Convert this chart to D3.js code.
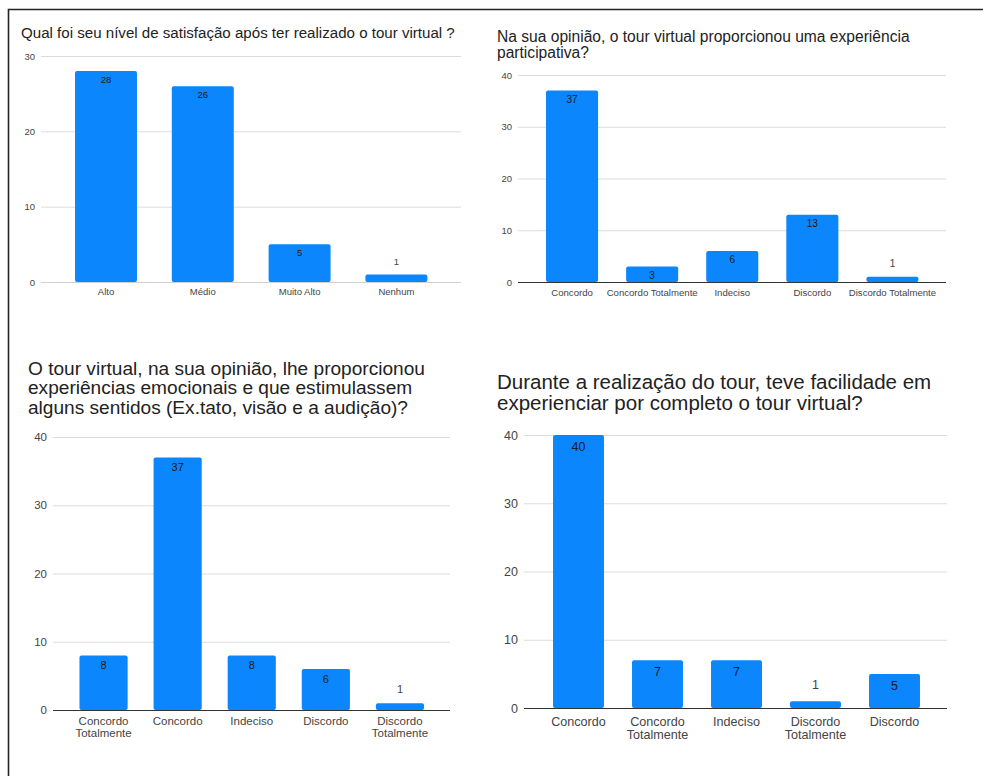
<!DOCTYPE html>
<html>
<head>
<meta charset="utf-8">
<script src="https://cdn.jsdelivr.net/npm/d3@7"></script>
<style>
  html, body { margin: 0; padding: 0; background: #fff; }
  svg { display: block; }
  text { font-family: "Liberation Sans", Arial, sans-serif; }
</style>
</head>
<body>
<svg id="chart" width="983" height="776"></svg>
<script>
// Survey answers about the virtual tour, one block per question
const satisfactionTitle = ["Qual foi seu nível de satisfação após ter realizado o tour virtual ?"];
const satisfactionCategories = ["Alto", "Médio", "Muito Alto", "Nenhum"];
const satisfactionValues = [28, 26, 5, 1];
const satisfactionTicks = [0, 10, 20, 30];

const participationTitle = ["Na sua opinião, o tour virtual proporcionou uma experiência", "participativa?"];
const participationCategories = ["Concordo", "Concordo Totalmente", "Indeciso", "Discordo", "Discordo Totalmente"];
const participationValues = [37, 3, 6, 13, 1];
const participationTicks = [0, 10, 20, 30, 40];

const emotionTitle = ["O tour virtual, na sua opinião, lhe proporcionou", "experiências emocionais e que estimulassem", "alguns sentidos (Ex.tato, visão e a audição)?"];
const emotionCategories = ["Concordo Totalmente", "Concordo", "Indeciso", "Discordo", "Discordo Totalmente"];
const emotionValues = [8, 37, 8, 6, 1];
const emotionTicks = [0, 10, 20, 30, 40];

const easeTitle = ["Durante a realização do tour, teve facilidade em", "experienciar por completo o tour virtual?"];
const easeCategories = ["Concordo", "Concordo Totalmente", "Indeciso", "Discordo Totalmente", "Discordo"];
const easeValues = [40, 7, 7, 1, 5];
const easeTicks = [0, 10, 20, 30, 40];

const BAR = "#0b86fd";
const svg = d3.select("#chart");

// Page frame (top and left edges)
svg.append("path")
  .attr("d", "M8.5,776 L8.5,9.5 L983,9.5")
  .attr("fill", "none").attr("stroke", "#222").attr("stroke-width", 1.6);

function drawPanel(cfg) {
  const g = svg.append("g");

  // title
  const title = g.append("text")
    .attr("x", cfg.titleX).attr("y", cfg.titleY)
    .attr("font-size", cfg.titleSize).attr("fill", "#222");
  cfg.title.forEach((line, i) => {
    title.append("tspan").attr("x", cfg.titleX).attr("y", cfg.titleY + i * cfg.titleLead).text(line);
  });

  const y = d3.scaleLinear().domain([0, cfg.yMax]).range([cfg.y0, cfg.yTop]);
  const x = d3.scaleBand().domain(cfg.categories)
    .range(cfg.xRange).paddingInner(cfg.pad).paddingOuter(cfg.pad / 2);

  // gridlines + tick labels
  const yAxis = g.append("g")
    .attr("transform", `translate(${cfg.left},0)`)
    .call(d3.axisLeft(y).tickValues(cfg.ticks).tickSize(-(cfg.right - cfg.left)).tickPadding(cfg.tickPad));
  yAxis.select(".domain").remove();
  yAxis.selectAll(".tick line")
    .attr("stroke", d => (d === 0 ? cfg.zeroColor : "#dcdcdc"))
    .attr("stroke-width", 1);
  yAxis.selectAll(".tick text")
    .attr("font-size", cfg.tickSize).attr("fill", "#444")
    .attr("font-family", "Liberation Sans, Arial, sans-serif");

  // bars
  const data = cfg.categories.map((c, i) => ({ c, v: cfg.values[i] }));
  g.selectAll("rect.bar").data(data).join("rect")
    .attr("class", "bar")
    .attr("x", d => x(d.c))
    .attr("y", d => y(d.v))
    .attr("width", x.bandwidth())
    .attr("height", d => y(0) - y(d.v))
    .attr("rx", 2)
    .attr("fill", BAR);

  // redraw zero line above bars
  g.append("line")
    .attr("x1", cfg.left).attr("x2", cfg.right)
    .attr("y1", y(0) + 0.5).attr("y2", y(0) + 0.5)
    .attr("stroke", cfg.zeroColor).attr("stroke-width", 1);

  // value labels: inside the bar top when it fits, above it otherwise
  g.selectAll("text.val").data(data).join("text")
    .attr("class", "val")
    .attr("x", d => x(d.c) + x.bandwidth() / 2)
    .attr("y", d => {
      const h = y(0) - y(d.v);
      return h > 12 ? y(d.v) + cfg.valSize * 1.25 : y(d.v) - cfg.valSize * 0.95;
    })
    .attr("text-anchor", "middle")
    .attr("font-size", cfg.valSize)
    .attr("fill", d => (y(0) - y(d.v) > 12 ? "#1a1a1a" : "#444"))
    .text(d => d.v);

  // category labels
  g.selectAll("text.cat").data(data).join("text")
    .attr("class", "cat")
    .attr("x", d => x(d.c) + x.bandwidth() / 2)
    .attr("y", cfg.catY)
    .attr("text-anchor", "middle")
    .attr("font-size", cfg.catSize)
    .attr("fill", "#444")
    .each(function (d) {
      const lines = cfg.wrap ? d.c.split(" ") : [d.c];
      const t = d3.select(this);
      const cx = x(d.c) + x.bandwidth() / 2;
      lines.forEach((ln, i) => {
        t.append("tspan").attr("x", cx).attr("y", cfg.catY + i * cfg.catLead).text(ln);
      });
    });
}

drawPanel({
  title: satisfactionTitle, categories: satisfactionCategories, values: satisfactionValues, ticks: satisfactionTicks,
  titleX: 21, titleY: 38, titleSize: 15.1, titleLead: 16,
  left: 41, right: 461, y0: 282, yTop: 56, yMax: 30,
  xRange: [57.6, 444.8], pad: 0.36,
  tickSize: 9.5, tickPad: 6, zeroColor: "#d0d0d0",
  valSize: 9.5, catSize: 9.5, catY: 294.5, catLead: 11, wrap: false
});

drawPanel({
  title: participationTitle, categories: participationCategories, values: participationValues, ticks: participationTicks,
  titleX: 497, titleY: 41.5, titleSize: 15.6, titleLead: 16.3,
  left: 518, right: 946, y0: 282, yTop: 75, yMax: 40,
  xRange: [532, 932.5], pad: 0.35,
  tickSize: 9.5, tickPad: 6, zeroColor: "#333",
  valSize: 10, catSize: 9.6, catY: 295.5, catLead: 11, wrap: false
});

drawPanel({
  title: emotionTitle, categories: emotionCategories, values: emotionValues, ticks: emotionTicks,
  titleX: 28, titleY: 375, titleSize: 19.1, titleLead: 19.4,
  left: 53, right: 450, y0: 710, yTop: 437, yMax: 40,
  xRange: [66.5, 437], pad: 0.35,
  tickSize: 11.5, tickPad: 6, zeroColor: "#333",
  valSize: 11, catSize: 11.5, catY: 725, catLead: 12, wrap: true
});

drawPanel({
  title: easeTitle, categories: easeCategories, values: easeValues, ticks: easeTicks,
  titleX: 497, titleY: 389, titleSize: 20.5, titleLead: 21,
  left: 524, right: 947, y0: 708, yTop: 435, yMax: 40,
  xRange: [539, 934], pad: 0.355,
  tickSize: 12.5, tickPad: 6, zeroColor: "#333",
  valSize: 12.5, catSize: 12.6, catY: 725.5, catLead: 13, wrap: true
});
</script>
</body>
</html>
